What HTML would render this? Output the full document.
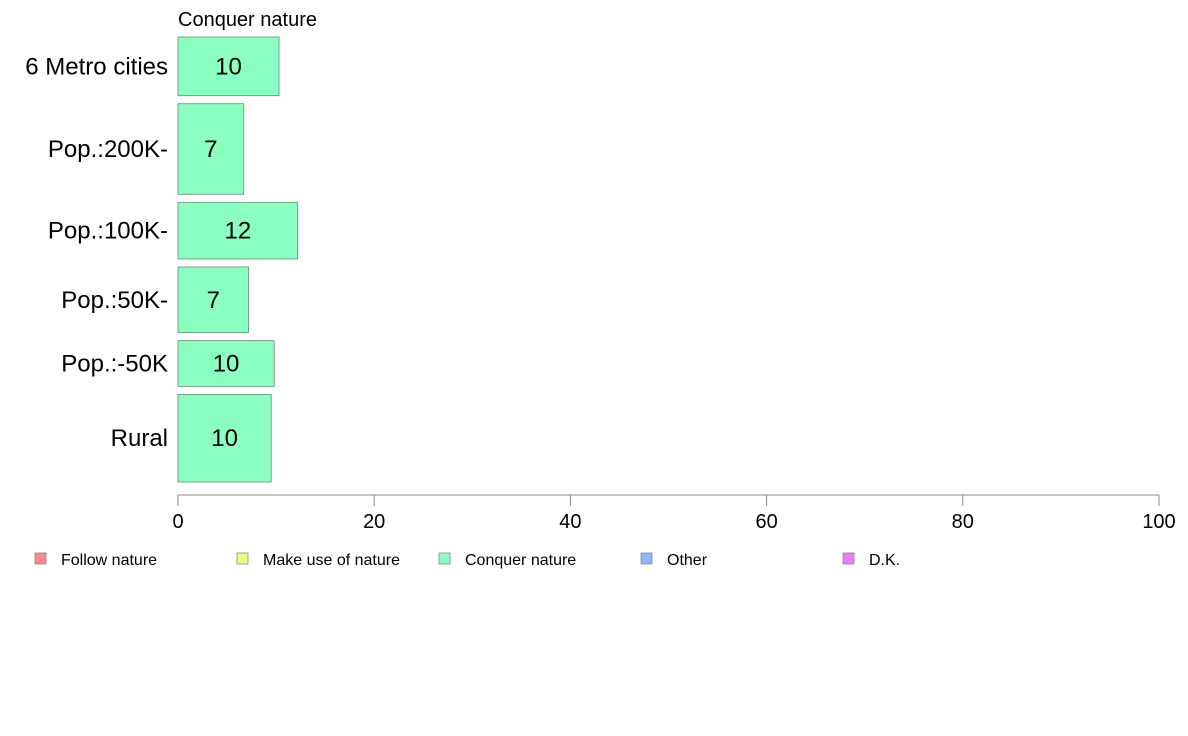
<!DOCTYPE html>
<html><head><meta charset="utf-8"><style>
html,body{margin:0;padding:0;background:#fff;}
svg{display:block;font-family:"Liberation Sans",Arial,sans-serif;}
</style></head><body>
<svg id="chart" width="1188" height="736">
<text x="178" y="26" font-size="20" fill="#000">Conquer nature</text>
<g id="bars"></g>
<g id="axis"></g>
<g id="legend"></g>
</svg>
<script>
const categories = ["6 Metro cities","Pop.:200K-","Pop.:100K-","Pop.:50K-","Pop.:-50K","Rural"];
const values = [10.3, 6.7, 12.2, 7.2, 9.8, 9.5];
const sampleWeights = [59, 91, 57, 66, 46, 88];
const tickLabels = [0,20,40,60,80,100];
const legendLabels = ["Follow nature","Make use of nature","Conquer nature","Other","D.K."];
const legendColors = ["#FF8A8A","#EEFF80","#8AFFC0","#8AB8FF","#E680FF"];

const NS="http://www.w3.org/2000/svg";
const x0=178, x1=1159, yTop=37, yBot=482, gap=8;
const xs=v=>x0+(v/100)*(x1-x0);
const totalW=sampleWeights.reduce((a,b)=>a+b,0);
const unitH=(yBot-yTop-gap*(categories.length-1))/totalW;
function mk(tag,attrs,parent){const e=document.createElementNS(NS,tag);for(const k in attrs)e.setAttribute(k,attrs[k]);parent.appendChild(e);return e;}
const gB=document.getElementById('bars');
let y=yTop;
categories.forEach((c,i)=>{
  const h=sampleWeights[i]*unitH;
  const r=mk('rect',{x:x0,y:y,width:xs(values[i])-x0,height:h,fill:"#8AFFC0",stroke:"#6a8a7a","stroke-width":0.8},gB);
  
  
  const t=mk('text',{x:(x0+xs(values[i]))/2,y:y+h/2+8,"font-size":24,"text-anchor":"middle",fill:"#000"},gB);
  t.textContent=Math.round(values[i]);
  
  
  const l=mk('text',{x:168,y:y+h/2+8,"font-size":24,"text-anchor":"end",fill:"#000"},gB);
  l.textContent=c;
  
  
  y+=h+gap;
});
const gA=document.getElementById('axis');
const ax=mk('line',{x1:x0,x2:x1,y1:495,y2:495,stroke:"#888","stroke-width":1},gA);


tickLabels.forEach(v=>{
  const tk=mk('line',{x1:xs(v),x2:xs(v),y1:495,y2:506,stroke:"#888","stroke-width":1},gA);
  
  
  const t=mk('text',{x:xs(v),y:528,"font-size":20,"text-anchor":"middle",fill:"#000"},gA);
  t.textContent=v;
  
  
});
const gL=document.getElementById('legend');
legendLabels.forEach((lab,i)=>{
  const lx=35+i*202;
  const r=mk('rect',{x:lx,y:553,width:11,height:11,fill:legendColors[i],stroke:"#888","stroke-width":0.8},gL);
  
  
  const t=mk('text',{x:lx+26,y:565,"font-size":16,fill:"#000"},gL);
  t.textContent=lab;
  
  
});
</script>
</body></html>
